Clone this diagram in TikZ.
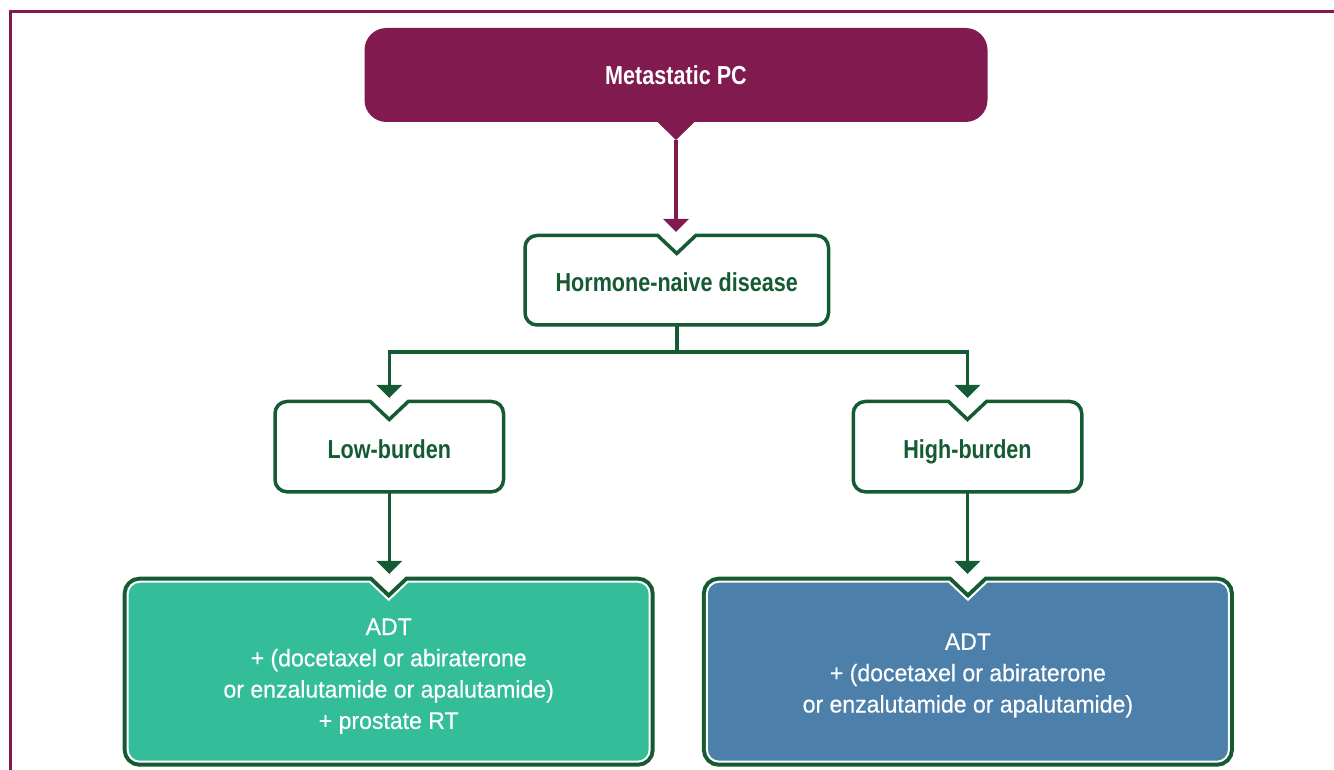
\documentclass[tikz,border=0pt]{standalone}
\usepackage{fontspec}
\setmainfont{Liberation Sans}[FakeStretch=0.96,FakeBold=0.4]
\newfontfamily\headfont{Liberation Sans}[FakeStretch=0.83]
\usetikzlibrary{arrows.meta,calc}
\pgfdeclarelayer{background}
\pgfsetlayers{background,main}

% rounded box with a V notch in its top edge
\newcommand{\notchbox}[2]{%
  \path[#1] let \p1=(#2.north west), \p2=(#2.south east), \p3=(#2.north) in
    (\x3+19pt,\y1) -- (\x2-12pt,\y1) arc[start angle=90,end angle=0,radius=12pt]
    -- (\x2,\y2+12pt) arc[start angle=0,end angle=-90,radius=12pt]
    -- (\x1+12pt,\y2) arc[start angle=-90,end angle=-180,radius=12pt]
    -- (\x1,\y1-12pt) arc[start angle=180,end angle=90,radius=12pt]
    -- (\x3-19pt,\y1) -- (\x3,\y1-18pt) -- cycle;}

\begin{document}
\begin{tikzpicture}[x=1pt,y=1pt,
  greenline/.style={draw=dkgreen,line width=3.5pt},
  greenarrow/.style={greenline,-{Triangle[width=25pt,length=13pt]}},
  boxlbl/.style={inner sep=0,outer sep=0,align=center},
  headlbl/.style={boxlbl,text=dkgreen,text height=23pt,text depth=0pt,
    font=\headfont\bfseries\fontsize{26}{30}\selectfont},
  adtlbl/.style={boxlbl,minimum width=522,minimum height=180,text=white,
    font=\fontsize{24}{31.3}\selectfont},
  whitebox/.style={greenline,fill=white},
  adtbox/.style={fill=#1,draw=white,line width=2pt,
    preaction={draw=dkgreen,line width=10pt}}]
\definecolor{maroon}{HTML}{811A4F}
\definecolor{dkgreen}{HTML}{145A32}
\definecolor{teal}{HTML}{33BD98}
\definecolor{steel}{HTML}{4D7FAB}
\useasboundingbox (0,0) rectangle (1334,769);
\draw[maroon,line width=2.5pt] (10.5,-5) -- (10.5,757.7) -- (1340,757.7);

\node[boxlbl,fill=maroon,rounded corners=22pt,text=white,
  minimum width=623,minimum height=94,
  font=\headfont\bfseries\fontsize{26}{30}\selectfont] (mpc) at (676,694) {Metastatic PC};
\fill[maroon] ($(mpc.south)+(-19,0.5)$) -- ($(mpc.south)+(19,0.5)$) -- ($(mpc.south)+(0,-18)$) -- cycle;
\coordinate (mpctip) at ($(mpc.south)+(0,-18)$);

\node[headlbl,minimum width=303.5,minimum height=89.5] (hormone) at (676.75,488.75) {Hormone-naive disease};
\foreach \nm/\xx/\txt in {low/389.25/Low-burden,high/967.5/High-burden}
  {\node[headlbl,minimum width=228.5,minimum height=90.3] (\nm) at (\xx,322.35) {\txt};}
\node[adtlbl] (adtlow) at (388.7,97.3)
  {\rule{0pt}{25.5pt}ADT\\+ (docetaxel or abiraterone\\or enzalutamide or apalutamide)\\+ prostate RT};
\node[adtlbl] (adthigh) at (967.9,97.3)
  {\rule{0pt}{24pt}ADT\\+ (docetaxel or abiraterone\\or enzalutamide or apalutamide)};

\begin{pgfonlayer}{background}
\notchbox{whitebox}{hormone}
\notchbox{whitebox}{low}
\notchbox{whitebox}{high}
\notchbox{adtbox=teal}{adtlow}
\notchbox{adtbox=steel}{adthigh}
\end{pgfonlayer}

\draw[line width=3.5pt,draw=maroon,-{Triangle[width=25pt,length=13pt]}]
  (mpctip) -- ($(mpctip |- hormone.north)+(0,3.5)$);
\draw[greenline] (hormone.south) -- ++(0,-27) coordinate (split);
\draw[greenarrow] (split) -| ($(low.north)+(0,3.5)$);
\draw[greenarrow] (split) -| ($(high.north)+(0,3.5)$);
\draw[greenarrow] (low.south) -- ($(low.south |- adtlow.north)+(0,7.7)$);
\draw[greenarrow] (high.south) -- ($(high.south |- adthigh.north)+(0,7.7)$);
\end{tikzpicture}
\end{document}
